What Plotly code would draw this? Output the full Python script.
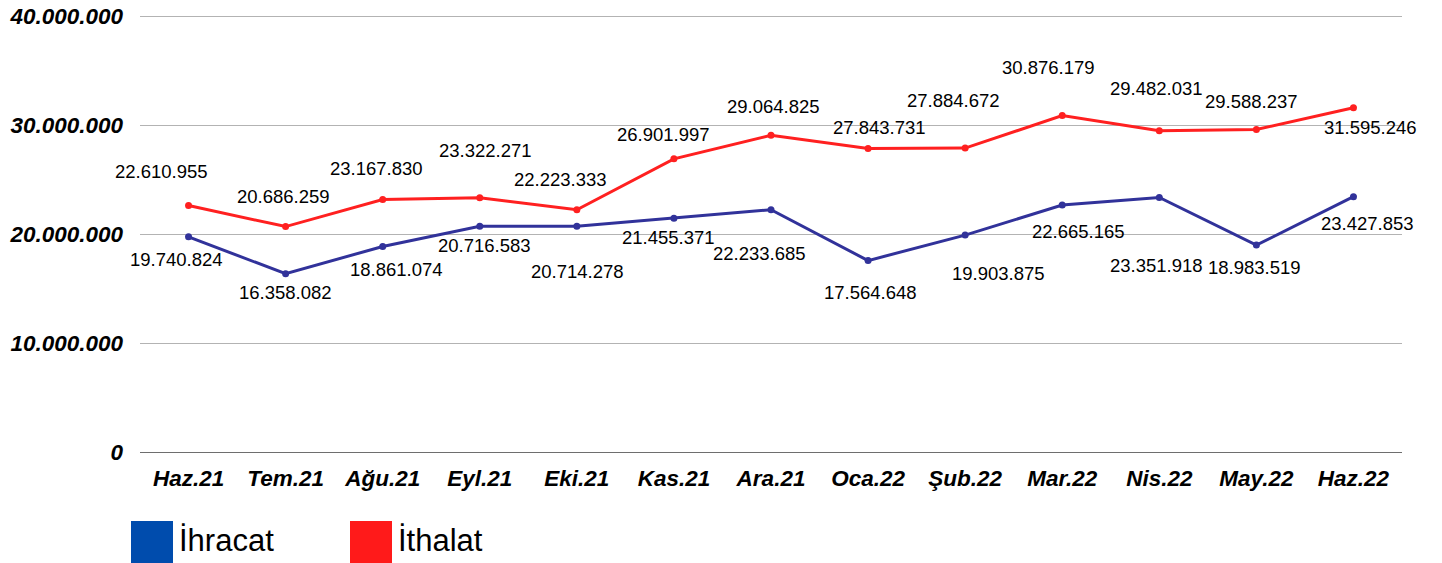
import plotly.graph_objects as go

months = ["Haz.21", "Tem.21", "Ağu.21", "Eyl.21", "Eki.21", "Kas.21", "Ara.21",
          "Oca.22", "Şub.22", "Mar.22", "Nis.22", "May.22", "Haz.22"]
ihracat = [19740824, 16358082, 18861074, 20716583, 20714278, 21455371, 22233685,
           17564648, 19903875, 22665165, 23351918, 18983519, 23427853]
ithalat = [22610955, 20686259, 23167830, 23322271, 22223333, 26901997, 29064825,
           27843731, 27884672, 30876179, 29482031, 29588237, 31595246]
y_ticks = [0, 10000000, 20000000, 30000000, 40000000]
series_names = ["İhracat", "İthalat"]

# label placement (pixel offsets of label centre from the point: dx right, dy down)
ithalat_label_off = [(-27, -34), (-2, -30), (-6, -31), (6, -47), (-16, -30), (-10, -24), (2, -29),
                     (11, -21), (-12, -48), (-14, -48), (-3, -42), (-5, -28), (17, 20)]
ihracat_label_off = [(-12, 23), (0, 19), (14, 23), (5, 19), (1, 45), (-5, 19), (-12, 44),
                     (2, 32), (33, 38), (16, 26), (-3, 68), (-2, 22), (14, 27)]

BLUE_LINE = "#31329a"
RED_LINE = "#ff2020"
BLUE_LEG = "#004cad"
RED_LEG = "#ff1a1a"
FONT = "Liberation Sans, Arial, sans-serif"


def fmt(v):
    return f"{v:,}".replace(",", ".")


fig = go.Figure()
fig.add_trace(go.Scatter(x=months, y=ihracat, mode="lines+markers", name=series_names[0],
                         line=dict(color=BLUE_LINE, width=3), marker=dict(size=7, color=BLUE_LINE),
                         showlegend=False, cliponaxis=False))
fig.add_trace(go.Scatter(x=months, y=ithalat, mode="lines+markers", name=series_names[1],
                         line=dict(color=RED_LINE, width=3), marker=dict(size=7, color=RED_LINE),
                         showlegend=False, cliponaxis=False))

annotations = []
for vals, offs in ((ithalat, ithalat_label_off), (ihracat, ihracat_label_off)):
    for m, v, (dx, dy) in zip(months, vals, offs):
        annotations.append(dict(x=m, y=v, xref="x", yref="y", text=fmt(v), showarrow=False,
                                xshift=dx, yshift=-dy, xanchor="center", yanchor="middle",
                                font=dict(family=FONT, size=18.5, color="#000000")))

# legend (drawn manually to match big square swatches)
shapes = []
for i, (name, col) in enumerate(zip(series_names, [BLUE_LEG, RED_LEG])):
    x0 = -9 + i * 219
    shapes.append(dict(type="rect", xref="paper", yref="paper", xsizemode="pixel", ysizemode="pixel",
                       xanchor=0, yanchor=0, x0=x0, x1=x0 + 42, y0=-69, y1=-111,
                       fillcolor=col, line=dict(width=0)))
    annotations.append(dict(x=0, y=0, xref="paper", yref="paper", xshift=x0 + 46, yshift=-88,
                            xanchor="left", yanchor="middle", text=name, showarrow=False,
                            font=dict(family=FONT, size=31, color="#000000")))

fig.update_layout(
    width=1442, height=563,
    margin=dict(l=140, r=40, t=15, b=111, autoexpand=False),
    paper_bgcolor="white", plot_bgcolor="white",
    annotations=annotations, shapes=shapes,
    showlegend=False,
    font=dict(family=FONT),
)
fig.update_xaxes(
    type="category", range=[-0.5, 12.5], automargin=False,
    showgrid=False, showline=False, ticks="", zeroline=False,
    tickfont=dict(family=FONT, size=22.5, color="#000000", weight="bold", style="italic"),
    ticklabelstandoff=10,
)
fig.update_yaxes(
    # a hair of headroom so the 40.000.000 grid line is drawn
    range=[0, 40100000], tickvals=y_ticks, ticktext=[fmt(v) for v in y_ticks], automargin=False,
    showgrid=True, gridcolor="#b3b3b3", gridwidth=1,
    zeroline=True, zerolinecolor="#6e6e6e", zerolinewidth=1,
    showline=False, ticks="",
    tickfont=dict(family=FONT, size=22.5, color="#000000", weight="bold", style="italic"),
    ticklabelstandoff=16,
)

# remove the default page margin so the figure sits at the window's top-left corner
fig.write_html("out.html", config={"displayModeBar": False},
               post_script="document.body.style.margin='0';document.body.style.overflow='hidden';")
